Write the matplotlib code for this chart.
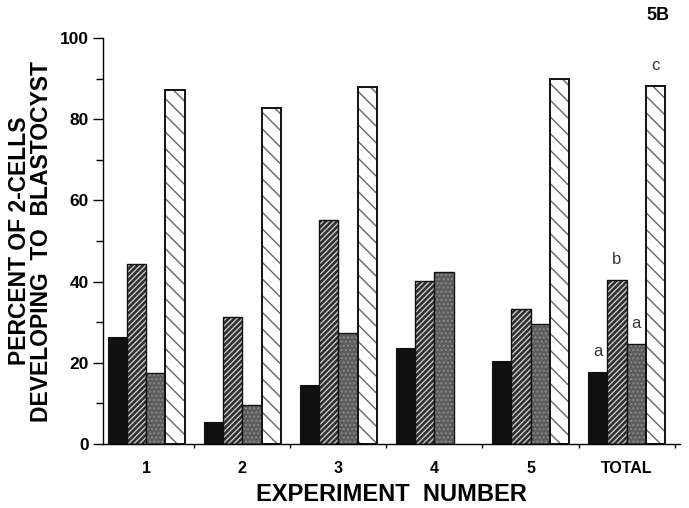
import numpy as np
import matplotlib.pyplot as plt
from matplotlib.ticker import MultipleLocator

plt.rcParams['font.family'] = ['Liberation Sans', 'DejaVu Sans']
plt.rcParams['hatch.linewidth'] = 1.0

# data (percent of 2-cells developing to blastocyst)
groups = ['1', '2', '3', '4', '5', 'TOTAL']
black_vals = [26.4, 5.5, 14.5, 23.6, 20.5, 17.8]
hatched_vals = [44.3, 31.4, 55.2, 40.1, 33.3, 40.4]
gray_vals = [17.6, 9.6, 27.4, 42.4, 29.5, 24.6]
light_vals = [87.2, 82.9, 88.0, np.nan, 89.9, 88.2]

# significance letters on the TOTAL group
total_letters = ['a', 'b', 'a', 'c']

fig = plt.figure(figsize=(6.89, 5.08), dpi=100)
ax = fig.add_axes([0.1495, 0.126, 0.838, 0.799])

x = np.arange(1, len(groups) + 1)
w = 0.2
offsets = [-1.5 * w, -0.5 * w, 0.5 * w, 1.5 * w]

# series 1: solid black
ax.bar(x + offsets[0], black_vals, w, color='#111111', edgecolor='#111111', linewidth=0.8)

# series 2: dark with light diagonal lines
ax.bar(x + offsets[1], hatched_vals, w, color='#2e2e2e', edgecolor='#c8c8c8',
       linewidth=0, hatch='//////')
ax.bar(x + offsets[1], hatched_vals, w, fill=False, edgecolor='#111111', linewidth=1.0)

# series 3: stippled gray
ax.bar(x + offsets[2], gray_vals, w, color='#5c5c5c', edgecolor='#8a8a8a',
       linewidth=0, hatch='....')
ax.bar(x + offsets[2], gray_vals, w, fill=False, edgecolor='#111111', linewidth=1.0)

# series 4: white with light dashes
ax.bar(x + offsets[3], light_vals, w, color='white', edgecolor='#666666',
       linewidth=0, hatch='\\\\')
ax.bar(x + offsets[3], light_vals, w, fill=False, edgecolor='#111111', linewidth=1.4)

# letters above TOTAL bars
tot = [black_vals[-1], hatched_vals[-1], gray_vals[-1], light_vals[-1]]
for off, val, lab in zip(offsets, tot, total_letters):
    ax.text(x[-1] + off, val + 3.2, lab, ha='center', va='bottom',
            fontsize=12, color='#333333')

ax.set_xlim(0.55, 6.56)
ax.set_ylim(0, 100)

ax.spines['top'].set_visible(False)
ax.spines['right'].set_visible(False)
ax.spines['left'].set_linewidth(1.0)
ax.spines['bottom'].set_linewidth(1.0)

ax.yaxis.set_major_locator(MultipleLocator(20))
ax.yaxis.set_minor_locator(MultipleLocator(10))
ax.tick_params(axis='y', which='major', length=7, width=1, labelsize=12.5, pad=3)
ax.tick_params(axis='y', which='minor', length=5, width=1)
for t in ax.get_yticklabels():
    t.set_fontweight('bold')

ax.set_xticks(x)
ax.set_xticklabels(groups, fontweight='bold', fontsize=11.5)
ax.tick_params(axis='x', which='major', length=0, pad=12)
ax.set_xticks(x + 0.5, minor=True)
ax.tick_params(axis='x', which='minor', length=3, width=1)

ax.set_xlabel('EXPERIMENT  NUMBER', fontsize=17, fontweight='bold', labelpad=5)
ax.set_ylabel('PERCENT OF 2-CELLS\nDEVELOPING  TO  BLASTOCYST', fontsize=16.5,
              fontweight='bold', labelpad=5, linespacing=0.95)

fig.text(0.955, 0.97, '5B', ha='center', va='center', fontsize=13, fontweight='bold')

fig.savefig('out.png', dpi=100)
